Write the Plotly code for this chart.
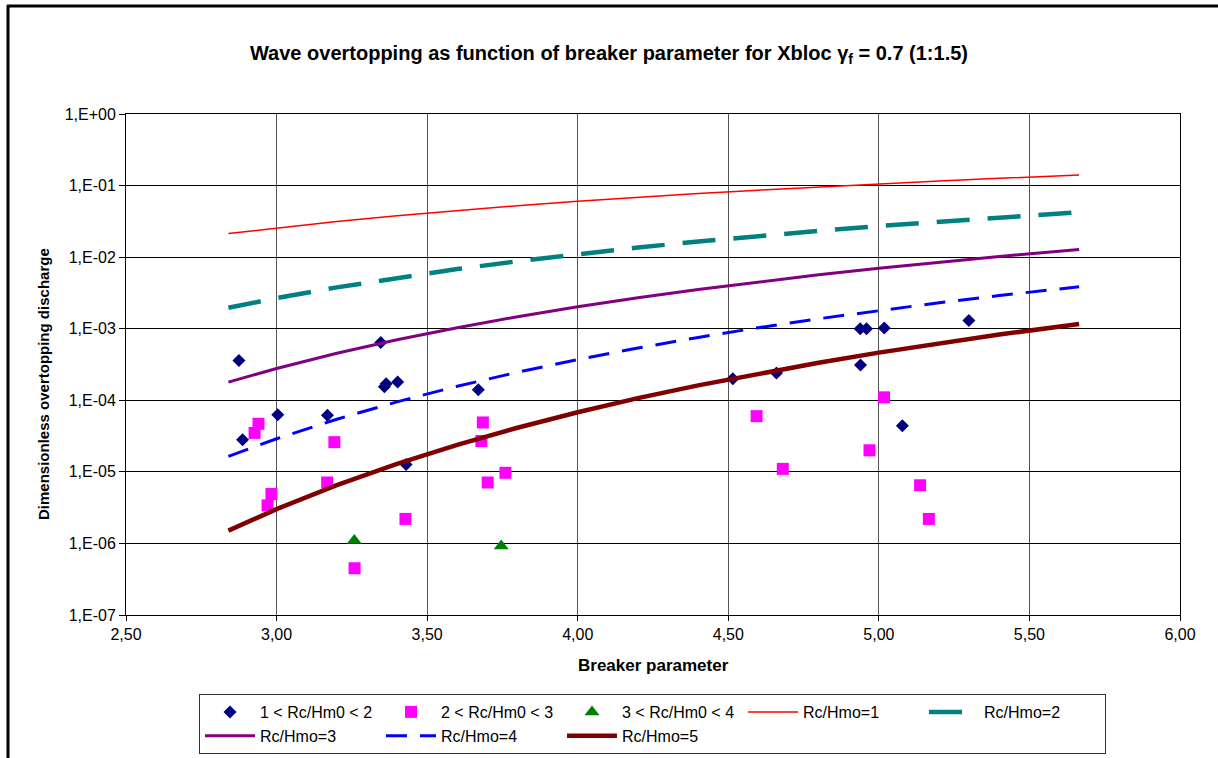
import plotly.graph_objects as go

# ---- data ----
s1_x = [2.875, 2.887, 3.004, 3.169, 3.346, 3.358, 3.364, 3.402, 3.43, 3.67,
        4.515, 4.66, 4.938, 4.959, 5.018, 4.939, 5.078, 5.299]
s1_y = [3.6e-4, 2.8e-5, 6.3e-5, 6.2e-5, 6.4e-4, 1.55e-4, 1.7e-4, 1.8e-4, 1.27e-5, 1.4e-4,
        2.0e-4, 2.4e-4, 1.0e-3, 1.0e-3, 1.02e-3, 3.1e-4, 4.4e-5, 1.3e-3]

s2_x = [2.94, 2.927, 2.983, 2.97, 3.192, 3.168, 3.428, 3.259, 3.685, 3.68, 3.701, 3.76,
        4.594, 4.681, 5.017, 4.969, 5.137, 5.166]
s2_y = [4.7e-5, 3.5e-5, 4.9e-6, 3.4e-6, 2.6e-5, 7.1e-6, 2.2e-6, 4.5e-7, 4.9e-5, 2.7e-5, 7.1e-6, 9.7e-6,
        6.0e-5, 1.1e-5, 1.1e-4, 2.0e-5, 6.5e-6, 2.2e-6]

s3_x = [3.258, 3.746]
s3_y = [1.1e-6, 9.2e-7]

line_x = [2.84, 3.0, 3.2, 3.4, 3.6, 3.8, 4.0, 4.2, 4.4, 4.6, 4.8, 5.0, 5.2, 5.4, 5.665]
rc1_y = [0.02137, 0.02565, 0.0315, 0.03792, 0.04486, 0.05229, 0.06019, 0.06851, 0.07722,
         0.08637, 0.09579, 0.1056, 0.1157, 0.1261, 0.1403]
rc2_y = [0.001959, 0.002672, 0.003781, 0.005152, 0.006811, 0.008768, 0.01104, 0.01362,
         0.01652, 0.01975, 0.0233, 0.02718, 0.03139, 0.0359, 0.04235]
rc3_y = [1.796e-4, 2.782e-4, 4.535e-4, 7.0e-4, 1.034e-3, 1.471e-3, 2.023e-3, 2.707e-3,
         3.534e-3, 4.519e-3, 5.665e-3, 6.998e-3, 8.511e-3, 1.022e-2, 1.279e-2]
rc4_y = [1.646e-5, 2.898e-5, 5.439e-5, 9.515e-5, 1.57e-4, 2.465e-4, 3.71e-4, 5.383e-4,
         7.557e-4, 1.034e-3, 1.378e-3, 1.8e-3, 2.308e-3, 2.909e-3, 3.859e-3]
rc5_y = [1.51e-6, 3.018e-6, 6.526e-6, 1.293e-5, 2.384e-5, 4.133e-5, 6.803e-5, 1.07e-4,
         1.616e-4, 2.365e-4, 3.352e-4, 4.636e-4, 6.258e-4, 8.279e-4, 1.165e-3]

x_tickvals = [2.5, 3.0, 3.5, 4.0, 4.5, 5.0, 5.5, 6.0]
x_ticktext = ["2,50", "3,00", "3,50", "4,00", "4,50", "5,00", "5,50", "6,00"]
y_tickvals = [1e0, 1e-1, 1e-2, 1e-3, 1e-4, 1e-5, 1e-6, 1e-7]
y_ticktext = ["1,E+00", "1,E-01", "1,E-02", "1,E-03", "1,E-04", "1,E-05", "1,E-06", "1,E-07"]

FONT = "Liberation Sans, Arial, sans-serif"

fig = go.Figure()
fig.add_trace(go.Scatter(x=s1_x, y=s1_y, mode="markers", name="1 < Rc/Hm0 < 2",
                         marker=dict(symbol="diamond", size=10, color="#000080")))
fig.add_trace(go.Scatter(x=s2_x, y=s2_y, mode="markers", name="2 < Rc/Hm0 < 3",
                         marker=dict(symbol="square", size=12, color="#FF00FF")))
fig.add_trace(go.Scatter(x=s3_x, y=s3_y, mode="markers", name="3 < Rc/Hm0 < 4",
                         marker=dict(symbol="triangle-up", size=13, color="#008000")))
fig.add_trace(go.Scatter(x=line_x, y=rc1_y, mode="lines", name="Rc/Hmo=1",
                         line=dict(color="#FF0000", width=1.5)))
fig.add_trace(go.Scatter(x=line_x, y=rc2_y, mode="lines", name="Rc/Hmo=2",
                         line=dict(color="#008080", width=4.5, dash="33px,18px")))
fig.add_trace(go.Scatter(x=line_x, y=rc3_y, mode="lines", name="Rc/Hmo=3",
                         line=dict(color="#800080", width=3)))
fig.add_trace(go.Scatter(x=line_x, y=rc4_y, mode="lines", name="Rc/Hmo=4",
                         line=dict(color="#0000FF", width=3, dash="21px,13px")))
fig.add_trace(go.Scatter(x=line_x, y=rc5_y, mode="lines", name="Rc/Hmo=5",
                         line=dict(color="#800000", width=4.5)))

L, R, T, B = 126, 38, 114, 143
W, H = 1218, 758
pw, ph = W - L - R, H - T - B

def px_x(px):
    return (px - L) / pw

def px_y(py):
    return (H - B - py) / ph

fig.update_layout(
    width=W, height=H,
    margin=dict(l=L, r=R, t=T, b=B, autoexpand=False),
    paper_bgcolor="white", plot_bgcolor="white",
    font=dict(family=FONT, size=16, color="black"),
    title=dict(text="<b>Wave overtopping as function of breaker parameter for Xbloc γ<sub>f</sub> = 0.7 (1:1.5)</b>",
               x=0.5, xref="container", xanchor="center",
               y=1 - 53 / H, yref="container", yanchor="middle",
               font=dict(family=FONT, size=20, color="black")),
    xaxis=dict(range=[2.5, 6.0], tickvals=x_tickvals, ticktext=x_ticktext,
               showgrid=True, gridcolor="#555555", gridwidth=1,
               showline=True, linecolor="black", linewidth=1, mirror=True,
               ticks="outside", ticklen=5, tickcolor="black", zeroline=False,
               tickfont=dict(family=FONT, size=16, color="black")),
    yaxis=dict(type="log", range=[-7, 0], tickvals=y_tickvals, ticktext=y_ticktext,
               showgrid=True, gridcolor="black", gridwidth=1,
               showline=True, linecolor="black", linewidth=1, mirror=True,
               ticks="outside", ticklen=6, tickcolor="black", zeroline=False,
               tickfont=dict(family=FONT, size=16, color="black")),
    legend=dict(orientation="h", x=px_x(199), xanchor="left",
                y=1 - 694 / H, yref="container", yanchor="top",
                bordercolor="#333333", borderwidth=1, bgcolor="white",
                entrywidth=116, entrywidthmode="pixels", itemwidth=50,
                font=dict(family=FONT, size=16, color="black")),
    showlegend=True,
    annotations=[
        dict(text="<b>Breaker parameter</b>", xref="paper", yref="paper",
             x=0.5, y=px_y(665), xanchor="center", yanchor="middle", showarrow=False,
             font=dict(family=FONT, size=17, color="black")),
        dict(text="<b>Dimensionless overtopping discharge</b>", xref="paper", yref="paper",
             x=px_x(43), y=px_y(384), xanchor="center", yanchor="middle", showarrow=False,
             textangle=-90, font=dict(family=FONT, size=15, color="black")),
    ],
    shapes=[
        dict(type="line", xref="paper", yref="paper", x0=px_x(8), x1=px_x(8),
             y0=px_y(5), y1=px_y(780), line=dict(color="black", width=3)),
        dict(type="line", xref="paper", yref="paper", x0=px_x(7), x1=px_x(1240),
             y0=px_y(6), y1=px_y(6), line=dict(color="black", width=3)),
    ],
)

fig.write_html("out.html")
